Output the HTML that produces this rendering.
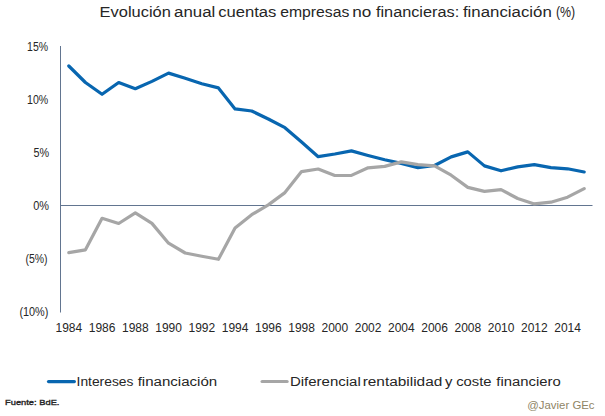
<!DOCTYPE html>
<html><head><meta charset="utf-8"><style>
html,body{margin:0;padding:0;background:#fff;}
body{width:605px;height:416px;overflow:hidden;}
svg{display:block;font-family:"Liberation Sans",sans-serif;fill:#262626;}
</style></head><body>
<svg width="605" height="416" viewBox="0 0 605 416">
<rect width="605" height="416" fill="#fff"/>
<text x="99.55" y="16.7" font-size="15.2" textLength="71.35" lengthAdjust="spacingAndGlyphs">Evolución</text>
<text x="174.05" y="16.7" font-size="15.2" textLength="41.25" lengthAdjust="spacingAndGlyphs">anual</text>
<text x="218.15" y="16.7" font-size="15.2" textLength="58.25" lengthAdjust="spacingAndGlyphs">cuentas</text>
<text x="280.15" y="16.7" font-size="15.2" textLength="69.15" lengthAdjust="spacingAndGlyphs">empresas</text>
<text x="352.30" y="16.7" font-size="15.2" textLength="19.05" lengthAdjust="spacingAndGlyphs">no</text>
<text x="375.95" y="16.7" font-size="15.2" textLength="83.25" lengthAdjust="spacingAndGlyphs">financieras:</text>
<text x="462.95" y="16.7" font-size="15.2" textLength="88.85" lengthAdjust="spacingAndGlyphs">financiación</text>
<text x="555.95" y="16.7" font-size="15.2" textLength="19.30" lengthAdjust="spacingAndGlyphs">(%)</text>
<text x="27.05" y="50.8" font-size="12" textLength="21.00" lengthAdjust="spacingAndGlyphs">15%</text>
<text x="27.05" y="103.8" font-size="12" textLength="21.20" lengthAdjust="spacingAndGlyphs">10%</text>
<text x="33.40" y="156.8" font-size="12" textLength="15.65" lengthAdjust="spacingAndGlyphs">5%</text>
<text x="33.25" y="209.8" font-size="12" textLength="15.80" lengthAdjust="spacingAndGlyphs">0%</text>
<text x="25.40" y="262.8" font-size="12" textLength="22.10" lengthAdjust="spacingAndGlyphs">(5%)</text>
<text x="19.40" y="315.8" font-size="12" textLength="29.00" lengthAdjust="spacingAndGlyphs">(10%)</text>
<text x="76.55" y="385.7" font-size="12" textLength="56.85" lengthAdjust="spacingAndGlyphs">Intereses</text>
<text x="137.65" y="385.7" font-size="12" textLength="79.55" lengthAdjust="spacingAndGlyphs">financiación</text>
<text x="289.90" y="385.7" font-size="12" textLength="70.90" lengthAdjust="spacingAndGlyphs">Diferencial</text>
<text x="362.70" y="385.7" font-size="12" textLength="79.60" lengthAdjust="spacingAndGlyphs">rentabilidad</text>
<text x="445.05" y="385.7" font-size="12" textLength="7.40" lengthAdjust="spacingAndGlyphs">y</text>
<text x="456.20" y="385.7" font-size="12" textLength="35.35" lengthAdjust="spacingAndGlyphs">coste</text>
<text x="496.35" y="385.7" font-size="12" textLength="64.35" lengthAdjust="spacingAndGlyphs">financiero</text>
<text x="5.05" y="405.0" font-size="8" textLength="54.40" lengthAdjust="spacingAndGlyphs" stroke="#262626" stroke-width="0.35">Fuente: BdE.</text>
<text x="527.25" y="408.9" font-size="10.6" textLength="67.30" lengthAdjust="spacingAndGlyphs" fill="#8f8566">@Javier GEc</text>
<text x="68.81" y="331.7" font-size="12" text-anchor="middle">1984</text>
<text x="102.06" y="331.7" font-size="12" text-anchor="middle">1986</text>
<text x="135.31" y="331.7" font-size="12" text-anchor="middle">1988</text>
<text x="168.56" y="331.7" font-size="12" text-anchor="middle">1990</text>
<text x="201.81" y="331.7" font-size="12" text-anchor="middle">1992</text>
<text x="235.06" y="331.7" font-size="12" text-anchor="middle">1994</text>
<text x="268.31" y="331.7" font-size="12" text-anchor="middle">1996</text>
<text x="301.56" y="331.7" font-size="12" text-anchor="middle">1998</text>
<text x="334.81" y="331.7" font-size="12" text-anchor="middle">2000</text>
<text x="368.06" y="331.7" font-size="12" text-anchor="middle">2002</text>
<text x="401.31" y="331.7" font-size="12" text-anchor="middle">2004</text>
<text x="434.56" y="331.7" font-size="12" text-anchor="middle">2006</text>
<text x="467.81" y="331.7" font-size="12" text-anchor="middle">2008</text>
<text x="501.06" y="331.7" font-size="12" text-anchor="middle">2010</text>
<text x="534.31" y="331.7" font-size="12" text-anchor="middle">2012</text>
<text x="567.56" y="331.7" font-size="12" text-anchor="middle">2014</text>
<line x1="60.5" y1="46" x2="60.5" y2="312.5" stroke="#627590" stroke-width="1"/>
<line x1="60.5" y1="205.5" x2="592.5" y2="205.5" stroke="#627590" stroke-width="1"/>
<polyline points="68.81,66.00 85.44,82.50 102.06,94.30 118.69,82.50 135.31,88.70 151.94,81.40 168.56,73.10 185.19,78.30 201.81,83.70 218.44,87.90 235.06,108.90 251.69,111.00 268.31,119.00 284.94,127.70 301.56,142.00 318.19,156.70 334.81,154.00 351.44,150.90 368.06,155.50 384.69,159.80 401.31,163.40 417.94,167.70 434.56,165.50 451.19,156.90 467.81,151.90 484.44,165.90 501.06,170.80 517.69,166.90 534.31,164.70 550.94,167.60 567.56,168.80 584.19,172.00" fill="none" stroke="#0866b0" stroke-width="3.2" stroke-linejoin="round" stroke-linecap="round"/>
<polyline points="68.81,252.70 85.44,249.80 102.06,218.30 118.69,223.50 135.31,212.90 151.94,223.40 168.56,243.20 185.19,253.00 201.81,256.30 218.44,259.30 235.06,227.90 251.69,214.70 268.31,204.90 284.94,192.60 301.56,171.60 318.19,169.00 334.81,175.50 351.44,175.40 368.06,167.80 384.69,166.40 401.31,161.90 417.94,164.60 434.56,165.80 451.19,175.20 467.81,187.40 484.44,191.40 501.06,189.70 517.69,198.50 534.31,203.90 550.94,202.20 567.56,197.20 584.19,188.60" fill="none" stroke="#a6a6a6" stroke-width="3.2" stroke-linejoin="round" stroke-linecap="round"/>
<line x1="48.5" y1="381.6" x2="74.4" y2="381.6" stroke="#0866b0" stroke-width="3.2" stroke-linecap="round"/>
<line x1="262.1" y1="381.5" x2="287.1" y2="381.5" stroke="#a6a6a6" stroke-width="3.2" stroke-linecap="round"/>
</svg>
</body></html>
